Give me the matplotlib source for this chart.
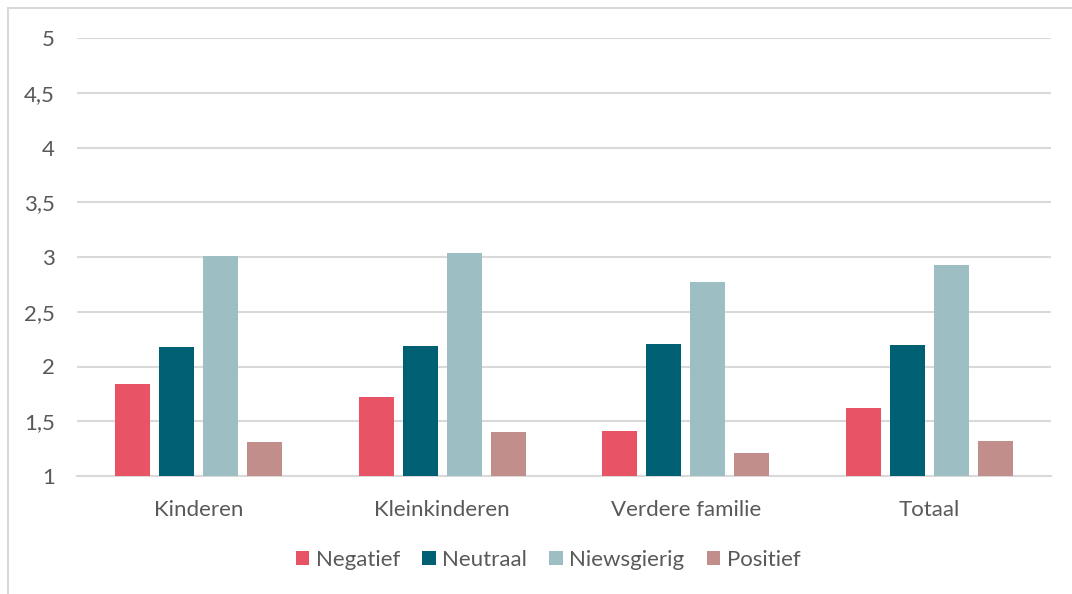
import numpy as np
from matplotlib import pyplot as plt
from matplotlib.patches import Rectangle

categories = ["Kinderen", "Kleinkinderen", "Verdere familie", "Totaal"]
series = ["Negatief", "Neutraal", "Niewsgierig", "Positief"]
negatief = [1.84, 1.72, 1.41, 1.62]
neutraal = [2.18, 2.19, 2.21, 2.20]
niewsgierig = [3.01, 3.04, 2.77, 2.93]
positief = [1.31, 1.40, 1.21, 1.32]
yticks = [1, 1.5, 2, 2.5, 3, 3.5, 4, 4.5, 5]
ytick_labels = ["1", "1,5", "2", "2,5", "3", "3,5", "4", "4,5", "5"]

colors = ["#E85465", "#006073", "#9DBFC3", "#C18E8C"]
txt = "#595959"
grid = "#D9D9D9"
plt.rcParams['font.family'] = ['Lato', 'DejaVu Sans']

fig = plt.figure(figsize=(10.72, 5.94), dpi=100)
ax = fig.add_axes([77/1072, 1-476/594, (1051-77)/1072, (476-38)/594])

x = np.arange(len(categories))
step = 44/243.5
width = 35/243.5
values = [negatief, neutraal, niewsgierig, positief]
for k, (name, vals) in enumerate(zip(series, values)):
    ax.bar(x + (k-1.5)*step, np.array(vals)-1, width, bottom=1, color=colors[k],
           label=name, zorder=3)

ax.set_xlim(-0.5, 3.5)
ax.set_ylim(1, 5)
ax.set_yticks(yticks)
ax.set_yticklabels(ytick_labels)
ax.set_xticks(x)
ax.set_xticklabels(categories)
ax.yaxis.grid(True, color=grid, lw=1.5, zorder=0)
for s in ["top", "right", "left"]:
    ax.spines[s].set_visible(False)
ax.spines["bottom"].set_color(grid)
ax.spines["bottom"].set_linewidth(1.5)
ax.tick_params(length=0, labelsize=16, colors=txt)
ax.tick_params(axis='y', pad=16)
ax.tick_params(axis='x', pad=17)

leg = ax.legend(loc='center', bbox_to_anchor=(548/1072, 1-560/594), bbox_transform=fig.transFigure,
                ncol=4, frameon=False, fontsize=16, handlelength=0.6, handleheight=0.6,
                handletextpad=0.3, columnspacing=1.0)
for t in leg.get_texts():
    t.set_color(txt)

fig.patches.append(Rectangle((8/1072, -0.1), 1.2, 1-8/594+0.1, transform=fig.transFigure,
                             fill=False, edgecolor=grid, lw=1.5))

fig.savefig("out.png", dpi=100)
